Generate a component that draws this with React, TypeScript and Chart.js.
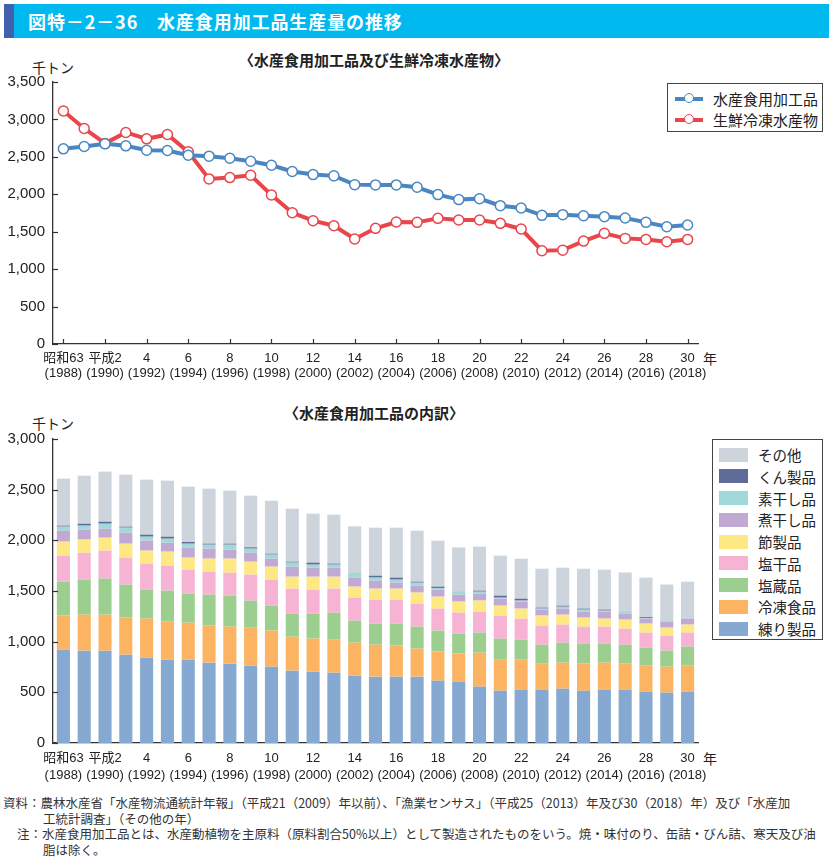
import React, { useEffect, useRef } from "react";
import { Chart, registerables } from "chart.js";

Chart.register(...registerables);

// ---- data ----
const years = [
  "1988","1989","1990","1991","1992","1993","1994","1995","1996","1997","1998",
  "1999","2000","2001","2002","2003","2004","2005","2006","2007","2008","2009",
  "2010","2011","2012","2013","2014","2015","2016","2017","2018",
];
const tickMain = ["昭和63","平成2","4","6","8","10","12","14","16","18","20","22","24","26","28","30"];
const tickSub = ["(1988)","(1990)","(1992)","(1994)","(1996)","(1998)","(2000)","(2002)","(2004)","(2006)","(2008)","(2010)","(2012)","(2014)","(2016)","(2018)"];

const processedFood = [2607,2638,2674,2647,2589,2585,2522,2509,2482,2442,2388,2304,2263,2246,2129,2125,2125,2094,1996,1929,1942,1848,1817,1719,1728,1714,1701,1683,1625,1567,1589];
const freshFrozen = [3112,2879,2680,2826,2741,2799,2567,2205,2223,2254,1991,1754,1647,1580,1402,1545,1629,1625,1679,1656,1656,1612,1536,1246,1254,1375,1478,1411,1397,1366,1397];

const neri = [921,911,911,872,842,822,822,793,783,763,753,714,704,694,664,655,655,655,615,605,556,516,526,526,536,516,526,526,507,497,507];
const reito = [336,355,355,365,385,375,365,365,365,375,356,335,326,326,326,315,306,276,290,277,335,306,296,257,257,267,267,257,256,256,256];
const enzo = [335,346,356,326,286,306,287,306,306,267,246,227,246,266,217,208,217,217,204,197,198,208,198,187,197,197,187,187,178,158,188];
const enkan = [257,266,276,266,257,247,237,227,227,256,257,247,237,237,227,236,236,227,217,207,207,227,207,188,178,168,168,158,148,148,138];
const fushi = [138,129,128,138,128,138,118,128,138,128,128,118,128,118,109,109,109,109,118,109,109,98,99,99,98,89,79,89,89,79,79];
const niboshi = [108,98,89,109,99,89,99,99,89,89,79,99,89,89,89,79,59,69,69,69,69,69,69,59,60,59,69,59,49,59,59];
const soboshi = [40,40,49,49,39,39,39,39,49,40,40,40,30,30,39,30,30,29,17,29,19,10,10,10,19,20,10,20,7,10,10];
const kunsei = [10,19,20,10,20,20,17,10,10,13,9,9,20,10,3,19,20,10,13,2,10,20,19,10,10,10,10,2,9,1,1];
const sonota = [464,474,494,513,543,553,546,543,523,510,523,524,483,483,464,474,493,503,454,435,435,395,395,384,375,394,395,385,389,356,354];

const lineNames = ["水産食用加工品", "生鮮冷凍水産物"];
const lineColors = ["#4a87c2", "#e9464c"];

const barNames = ["練り製品","冷凍食品","塩蔵品","塩干品","節製品","煮干し品","素干し品","くん製品","その他"];
const barColors = ["#86a9d1","#fdb462","#9ccf8f","#f7b3d4","#fee883","#c0a9d2","#a1d9da","#5f6c98","#cdd4dc"];
const barSeries = [neri, reito, enzo, enkan, fushi, niboshi, soboshi, kunsei, sonota];

const AXIS = "#333333";
const TICK_FONT = "'Liberation Sans', 'Noto Sans CJK JP', sans-serif";

function innerTicks(drawX: boolean) {
  return {
    id: "innerTicks",
    afterDraw(chart: any) {
      const { ctx, chartArea } = chart;
      const x = chart.scales.x;
      const y = chart.scales.y;
      ctx.save();
      ctx.strokeStyle = AXIS;
      ctx.lineWidth = 1.2;
      y.ticks.forEach((_t: any, i: number) => {
        const py = Math.round(y.getPixelForTick(i)) + 0.5;
        ctx.beginPath();
        ctx.moveTo(chartArea.left, py);
        ctx.lineTo(chartArea.left + 5, py);
        ctx.stroke();
      });
      if (drawX) {
        x.ticks.forEach((_t: any, i: number) => {
          if (i % 2 !== 0) return;
          const px = Math.round(x.getPixelForTick(i)) + 0.5;
          ctx.beginPath();
          ctx.moveTo(px, chartArea.bottom);
          ctx.lineTo(px, chartArea.bottom - 5);
          ctx.stroke();
        });
      }
      ctx.restore();
    },
  };
}

function xScale(height: number, lineHeight: number, stacked: boolean) {
  return {
    type: "category" as const,
    offset: true,
    stacked,
    grid: { display: false, drawTicks: false },
    border: { display: true, color: AXIS, width: 1.3 },
    ticks: {
      autoSkip: false,
      maxRotation: 0,
      minRotation: 0,
      padding: 7,
      color: "#222",
      font: { family: TICK_FONT, size: 13, lineHeight },
      callback: (_v: any, i: number) => (i % 2 === 0 ? [tickMain[i / 2], tickSub[i / 2]] : ""),
    },
    afterFit: (s: any) => {
      s.height = height;
    },
  };
}

function yScale(max: number, stacked: boolean) {
  return {
    min: 0,
    max,
    stacked,
    grid: { display: false, drawTicks: false },
    border: { display: true, color: AXIS, width: 1.3 },
    ticks: {
      stepSize: 500,
      padding: 8,
      color: "#222",
      font: { family: TICK_FONT, size: 15 },
      callback: (v: any) => Number(v).toLocaleString("en-US"),
    },
    afterFit: (s: any) => {
      s.width = 53;
    },
  };
}

function LineChart() {
  const ref = useRef<HTMLCanvasElement>(null);
  useEffect(() => {
    const chart = new Chart(ref.current!, {
      type: "line",
      data: {
        labels: years,
        datasets: [processedFood, freshFrozen].map((d, k) => ({
          label: lineNames[k],
          data: d,
          borderColor: lineColors[k],
          borderWidth: 4,
          pointRadius: 5,
          pointBackgroundColor: "#ffffff",
          pointBorderColor: lineColors[k],
          pointBorderWidth: 1.5,
          tension: 0,
        })),
      },
      options: {
        animation: false,
        responsive: false,
        layout: { padding: { left: 0, right: 135, top: 42, bottom: 0 } },
        plugins: { legend: { display: false }, tooltip: { enabled: false } },
        scales: { x: xScale(46, 15 / 13, false), y: yScale(3500, false) } as any,
      },
      plugins: [innerTicks(true)],
    });
    return () => chart.destroy();
  }, []);
  return <canvas ref={ref} width={833} height={350} style={{ position: "absolute", left: 0, top: 40, width: 833, height: 350 }} />;
}

function BarChart() {
  const ref = useRef<HTMLCanvasElement>(null);
  useEffect(() => {
    const chart = new Chart(ref.current!, {
      type: "bar",
      data: {
        labels: years,
        datasets: barSeries.map((d, k) => ({
          label: barNames[k],
          data: d,
          backgroundColor: barColors[k],
          borderWidth: 0,
          barPercentage: 0.9,
          categoryPercentage: 0.7,
        })),
      },
      options: {
        animation: false,
        responsive: false,
        layout: { padding: { left: 0, right: 135, top: 44, bottom: 0 } },
        plugins: { legend: { display: false }, tooltip: { enabled: false } },
        scales: { x: xScale(47, 17 / 13, true), y: yScale(3000, true) } as any,
      },
      plugins: [innerTicks(false)],
    });
    return () => chart.destroy();
  }, []);
  return <canvas ref={ref} width={833} height={395} style={{ position: "absolute", left: 0, top: 395, width: 833, height: 395 }} />;
}

const JP = "'Noto Sans CJK JP', sans-serif";

export default function App() {
  const abs = (s: React.CSSProperties): React.CSSProperties => ({ position: "absolute", ...s });
  return (
    <div style={{ position: "absolute", left: 0, top: 0, width: 833, height: 860, background: "#fff", fontFamily: JP, color: "#222", overflow: "hidden" }}>
      {/* title bar */}
      <div style={abs({ left: 4, top: 4, width: 825, height: 34, background: "#00b9ef" })} />
      <div style={abs({ left: 4, top: 4, width: 10, height: 34, background: "#4161ae" })} />
      <div style={abs({ left: 28, top: 4, height: 34, lineHeight: "34px", color: "#fff", fontWeight: 700, fontSize: 18, whiteSpace: "nowrap", letterSpacing: 0.9 })}>
        図特－2－36　水産食用加工品生産量の推移
      </div>

      {/* top chart */}
      <div style={abs({ left: 0, width: 748, top: 50, textAlign: "center", fontSize: 15, fontWeight: 700, whiteSpace: "nowrap", lineHeight: "20px" })}>
        〈水産食用加工品及び生鮮冷凍水産物〉
      </div>
      <div style={abs({ left: 32, top: 58, fontSize: 14, lineHeight: "18px", whiteSpace: "nowrap" })}>千トン</div>
      <div style={abs({ left: 703, top: 349, fontSize: 14, lineHeight: "18px" })}>年</div>
      <LineChart />
      <div style={abs({ left: 667, top: 83, width: 154, height: 47, border: "1.5px solid #444", background: "#fff" })}>
        {lineNames.map((n, k) => (
          <div key={n} style={abs({ left: 0, top: 4 + k * 21, width: 154, height: 21 })}>
            <div style={abs({ left: 7, top: 8.5, width: 28, height: 4, background: lineColors[k] })} />
            <div style={abs({ left: 16, top: 5, width: 8, height: 8, borderRadius: "50%", border: `1.5px solid ${lineColors[k]}`, background: "#fff" })} />
            <div style={abs({ left: 45, top: 0, fontSize: 15, lineHeight: "21px", whiteSpace: "nowrap" })}>{n}</div>
          </div>
        ))}
      </div>

      {/* bottom chart */}
      <div style={abs({ left: 0, width: 748, top: 403, textAlign: "center", fontSize: 15, fontWeight: 700, whiteSpace: "nowrap", lineHeight: "20px" })}>
        〈水産食用加工品の内訳〉
      </div>
      <div style={abs({ left: 32, top: 414, fontSize: 14, lineHeight: "18px", whiteSpace: "nowrap" })}>千トン</div>
      <div style={abs({ left: 703, top: 749, fontSize: 14, lineHeight: "18px" })}>年</div>
      <BarChart />
      <div style={abs({ left: 712, top: 439, width: 109, height: 199, border: "1.5px solid #444", background: "#fff" })}>
        {barNames.map((_n, i) => {
          const k = barNames.length - 1 - i;
          return (
            <div key={barNames[k]} style={abs({ left: 0, top: 4 + i * 21.75, width: 109, height: 21.75 })}>
              <div style={abs({ left: 6, top: 3.5, width: 29, height: 14, background: barColors[k] })} />
              <div style={abs({ left: 45, top: 0, fontSize: 14.5, lineHeight: "21px", whiteSpace: "nowrap" })}>{barNames[k]}</div>
            </div>
          );
        })}
      </div>

      {/* notes */}
      <div style={abs({ left: 3, top: 795, fontSize: 12.5, lineHeight: "15.5px", color: "#333", whiteSpace: "nowrap" })}>
        <div>資料：農林水産省「水産物流通統計年報」（平成21（2009）年以前）、「漁業センサス」（平成25（2013）年及び30（2018）年）及び「水産加</div>
        <div style={{ paddingLeft: 40 }}>工統計調査」（その他の年）</div>
        <div style={{ paddingLeft: 14 }}>注：水産食用加工品とは、水産動植物を主原料（原料割合50%以上）として製造されたものをいう。焼・味付のり、缶詰・びん詰、寒天及び油</div>
        <div style={{ paddingLeft: 40 }}>脂は除く。</div>
      </div>
    </div>
  );
}
